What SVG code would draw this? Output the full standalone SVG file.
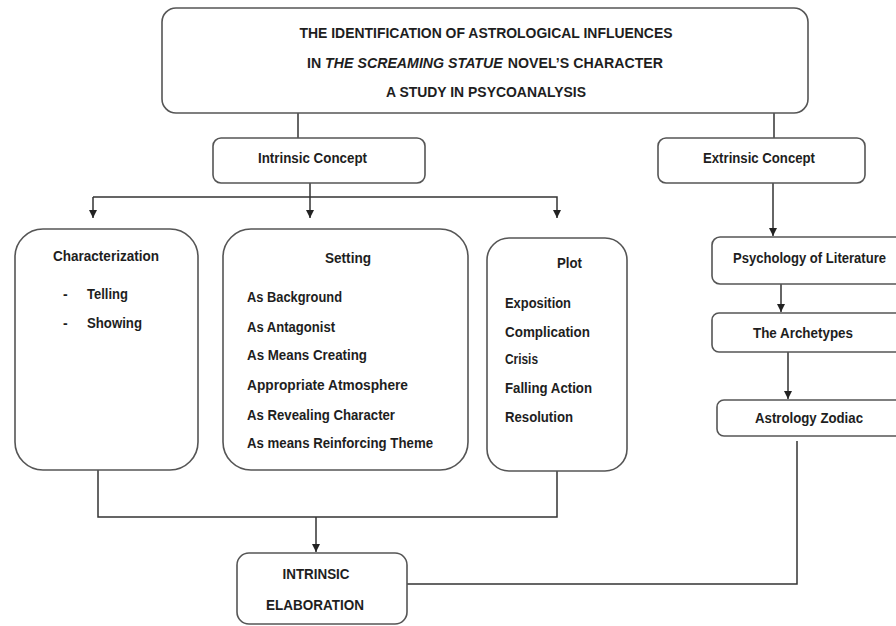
<svg xmlns="http://www.w3.org/2000/svg" width="896" height="626" viewBox="0 0 896 626">
<defs>
<style>
.box{fill:#fff;stroke:#555;stroke-width:1.6}
.ln{fill:none;stroke:#333;stroke-width:1.5}
text{font-family:"Liberation Sans",Arial,sans-serif;font-weight:bold;font-size:14px;fill:#1e1e1e}
.m{text-anchor:middle}
</style>
<marker id="ah" viewBox="0 0 8 8" refX="8" refY="4" markerWidth="8" markerHeight="8" markerUnits="userSpaceOnUse" orient="auto">
<path d="M0,0 L8,4 L0,8 z" fill="#222"/>
</marker>
</defs>
<rect width="896" height="626" fill="#fff"/>
<g id="connectors">
<path class="ln" d="M298 113 V138"/>
<path class="ln" d="M774 112 V138"/>
<path class="ln" d="M310 183 V218" marker-end="url(#ah)"/>
<path class="ln" d="M93 197 H557 V218" marker-end="url(#ah)"/>
<path class="ln" d="M93 197 V218" marker-end="url(#ah)"/>
<path class="ln" d="M773 183 V236" marker-end="url(#ah)"/>
<path class="ln" d="M781 284 V312" marker-end="url(#ah)"/>
<path class="ln" d="M788 352 V399" marker-end="url(#ah)"/>
<path class="ln" d="M98 470 V517 H557 V471"/>
<path class="ln" d="M316 517 V552" marker-end="url(#ah)"/>
<path class="ln" d="M797 441 V584 H407"/>
</g>
<g id="title">
<rect class="box" x="162" y="8" width="646" height="105" rx="14"/>
<text class="m" x="486" y="38" textLength="373" lengthAdjust="spacingAndGlyphs">THE IDENTIFICATION OF ASTROLOGICAL INFLUENCES</text>
<text class="m" x="485" y="68" textLength="356" lengthAdjust="spacingAndGlyphs">IN <tspan font-style="italic">THE SCREAMING STATUE</tspan><tspan dx="5">NOVEL’S CHARACTER</tspan></text>
<text class="m" x="486" y="97" textLength="200" lengthAdjust="spacingAndGlyphs">A STUDY IN PSYCOANALYSIS</text>
</g>
<g id="intrinsic">
<rect class="box" x="213" y="138" width="212" height="45" rx="8"/>
<text x="258" y="163" textLength="109" lengthAdjust="spacingAndGlyphs">Intrinsic Concept</text>
</g>
<g id="extrinsic">
<rect class="box" x="658" y="138" width="207" height="45" rx="8"/>
<text x="703" y="163" textLength="112" lengthAdjust="spacingAndGlyphs">Extrinsic Concept</text>
</g>
<g id="characterization">
<rect class="box" x="15" y="229" width="183" height="241" rx="28"/>
<text x="53" y="261" textLength="106" lengthAdjust="spacingAndGlyphs">Characterization</text>
<text x="63" y="299">-</text>
<text x="87" y="299" textLength="41" lengthAdjust="spacingAndGlyphs">Telling</text>
<text x="63" y="328">-</text>
<text x="87" y="328" textLength="55" lengthAdjust="spacingAndGlyphs">Showing</text>
</g>
<g id="setting">
<rect class="box" x="223" y="229" width="245" height="241" rx="28"/>
<text x="325" y="263" textLength="46" lengthAdjust="spacingAndGlyphs">Setting</text>
<text x="247" y="302" textLength="95" lengthAdjust="spacingAndGlyphs">As Background</text>
<text x="247" y="332" textLength="88" lengthAdjust="spacingAndGlyphs">As Antagonist</text>
<text x="247" y="360" textLength="120" lengthAdjust="spacingAndGlyphs">As Means Creating</text>
<text x="247" y="390" textLength="161" lengthAdjust="spacingAndGlyphs">Appropriate Atmosphere</text>
<text x="247" y="420" textLength="148" lengthAdjust="spacingAndGlyphs">As Revealing Character</text>
<text x="247" y="448" textLength="186" lengthAdjust="spacingAndGlyphs">As means Reinforcing Theme</text>
</g>
<g id="plot">
<rect class="box" x="487" y="238" width="140" height="233" rx="22"/>
<text x="557" y="268" textLength="25" lengthAdjust="spacingAndGlyphs">Plot</text>
<text x="505" y="308" textLength="66" lengthAdjust="spacingAndGlyphs">Exposition</text>
<text x="505" y="337" textLength="85" lengthAdjust="spacingAndGlyphs">Complication</text>
<text x="505" y="364" textLength="33" lengthAdjust="spacingAndGlyphs">Crisis</text>
<text x="505" y="393" textLength="87" lengthAdjust="spacingAndGlyphs">Falling Action</text>
<text x="505" y="422" textLength="68" lengthAdjust="spacingAndGlyphs">Resolution</text>
</g>
<g id="psychology">
<rect class="box" x="712" y="237" width="192" height="47" rx="8"/>
<text x="733" y="263" textLength="153" lengthAdjust="spacingAndGlyphs">Psychology of Literature</text>
</g>
<g id="archetypes">
<rect class="box" x="712" y="313" width="192" height="39" rx="7"/>
<text x="753" y="338" textLength="100" lengthAdjust="spacingAndGlyphs">The Archetypes</text>
</g>
<g id="zodiac">
<rect class="box" x="717" y="400" width="190" height="36" rx="7"/>
<text x="755" y="423" textLength="108" lengthAdjust="spacingAndGlyphs">Astrology Zodiac</text>
</g>
<g id="elaboration">
<rect class="box" x="237" y="553" width="170" height="71" rx="12"/>
<text class="m" x="316" y="579" textLength="67" lengthAdjust="spacingAndGlyphs">INTRINSIC</text>
<text class="m" x="315" y="610" textLength="98" lengthAdjust="spacingAndGlyphs">ELABORATION</text>
</g>
</svg>
